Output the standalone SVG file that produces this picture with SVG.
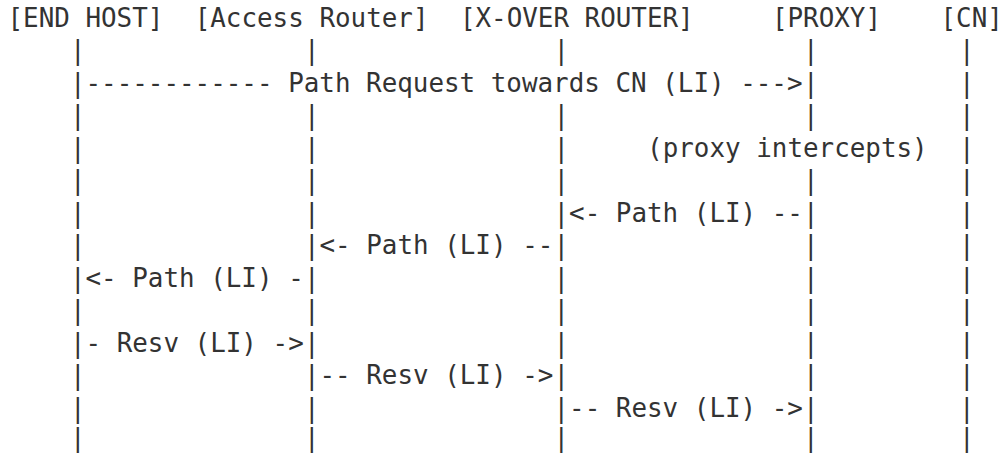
<svg xmlns="http://www.w3.org/2000/svg" width="1003" height="453" viewBox="0 0 1003 453" xml:space="preserve">
<style>
text { font-family: "DejaVu Sans Mono", "Liberation Mono", monospace; font-size: 25.9px; fill: #333333; white-space: pre; }
</style>
<rect width="1003" height="453" fill="#ffffff"/>
<g id="end-host"><text x="7.5" y="26.7">[END HOST]</text></g>
<g id="access-router"><text x="194.7" y="26.7">[Access Router]</text></g>
<g id="x-over-router"><text x="459.9" y="26.7">[X-OVER ROUTER]</text></g>
<g id="proxy"><text x="771.9" y="26.7">[PROXY]</text></g>
<g id="cn"><text x="940.5" y="26.7">[CN]</text></g>
<g id="connectors">
  <g id="lifelines">
    <text><tspan x="69.9" y="59.2">|</tspan><tspan x="69.9" y="91.7">|</tspan><tspan x="69.9" y="124.2">|</tspan><tspan x="69.9" y="156.7">|</tspan><tspan x="69.9" y="189.2">|</tspan><tspan x="69.9" y="221.7">|</tspan><tspan x="69.9" y="254.2">|</tspan><tspan x="69.9" y="286.7">|</tspan><tspan x="69.9" y="319.2">|</tspan><tspan x="69.9" y="351.7">|</tspan><tspan x="69.9" y="384.2">|</tspan><tspan x="69.9" y="416.7">|</tspan><tspan x="69.9" y="446.5">|</tspan></text>
    <text><tspan x="303.9" y="59.2">|</tspan><tspan x="303.9" y="124.2">|</tspan><tspan x="303.9" y="156.7">|</tspan><tspan x="303.9" y="189.2">|</tspan><tspan x="303.9" y="221.7">|</tspan><tspan x="303.9" y="254.2">|</tspan><tspan x="303.9" y="286.7">|</tspan><tspan x="303.9" y="319.2">|</tspan><tspan x="303.9" y="351.7">|</tspan><tspan x="303.9" y="384.2">|</tspan><tspan x="303.9" y="416.7">|</tspan><tspan x="303.9" y="446.5">|</tspan></text>
    <text><tspan x="553.5" y="59.2">|</tspan><tspan x="553.5" y="124.2">|</tspan><tspan x="553.5" y="156.7">|</tspan><tspan x="553.5" y="189.2">|</tspan><tspan x="553.5" y="221.7">|</tspan><tspan x="553.5" y="254.2">|</tspan><tspan x="553.5" y="286.7">|</tspan><tspan x="553.5" y="319.2">|</tspan><tspan x="553.5" y="351.7">|</tspan><tspan x="553.5" y="384.2">|</tspan><tspan x="553.5" y="416.7">|</tspan><tspan x="553.5" y="446.5">|</tspan></text>
    <text><tspan x="803.1" y="59.2">|</tspan><tspan x="803.1" y="91.7">|</tspan><tspan x="803.1" y="124.2">|</tspan><tspan x="803.1" y="189.2">|</tspan><tspan x="803.1" y="221.7">|</tspan><tspan x="803.1" y="254.2">|</tspan><tspan x="803.1" y="286.7">|</tspan><tspan x="803.1" y="319.2">|</tspan><tspan x="803.1" y="351.7">|</tspan><tspan x="803.1" y="384.2">|</tspan><tspan x="803.1" y="416.7">|</tspan><tspan x="803.1" y="446.5">|</tspan></text>
    <text><tspan x="959.1" y="59.2">|</tspan><tspan x="959.1" y="91.7">|</tspan><tspan x="959.1" y="124.2">|</tspan><tspan x="959.1" y="156.7">|</tspan><tspan x="959.1" y="189.2">|</tspan><tspan x="959.1" y="221.7">|</tspan><tspan x="959.1" y="254.2">|</tspan><tspan x="959.1" y="286.7">|</tspan><tspan x="959.1" y="319.2">|</tspan><tspan x="959.1" y="351.7">|</tspan><tspan x="959.1" y="384.2">|</tspan><tspan x="959.1" y="416.7">|</tspan><tspan x="959.1" y="446.5">|</tspan></text>
  </g>
  <g id="messages">
    <text x="85.5" y="91.7">------------ Path Request towards CN (LI) ---&gt;</text>
    <text x="647.1" y="156.7">(proxy intercepts)</text>
    <text x="569.1" y="221.7">&lt;- Path (LI) --</text>
    <text x="319.5" y="254.2">&lt;- Path (LI) --</text>
    <text x="85.5" y="286.7">&lt;- Path (LI) -</text>
    <text x="85.5" y="351.7">- Resv (LI) -&gt;</text>
    <text x="319.5" y="384.2">-- Resv (LI) -&gt;</text>
    <text x="569.1" y="416.7">-- Resv (LI) -&gt;</text>
  </g>
</g>
</svg>
